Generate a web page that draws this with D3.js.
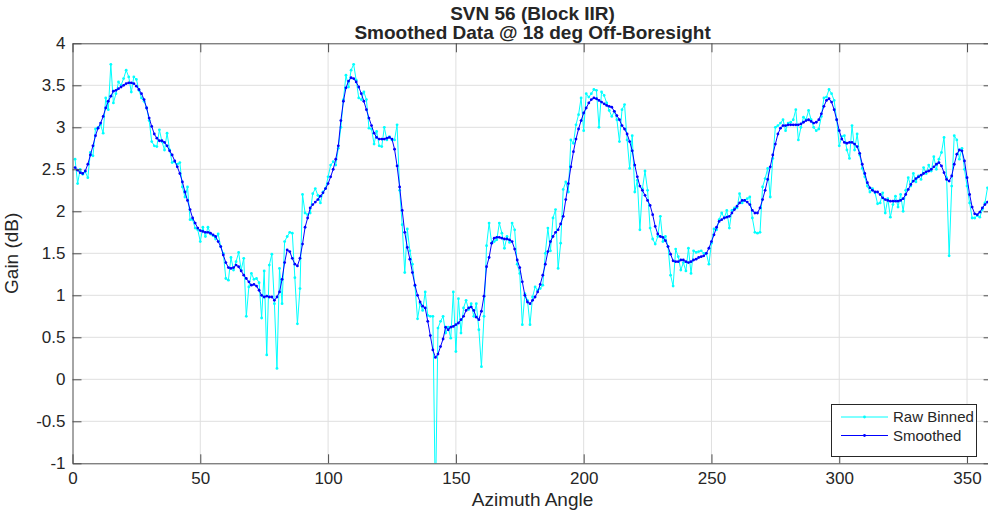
<!DOCTYPE html>
<html><head><meta charset="utf-8">
<script src="https://cdn.jsdelivr.net/npm/d3@7"></script>
<style>body{margin:0;background:#fff}svg{display:block}text{font-family:"Liberation Sans",Arial,sans-serif;fill:#262626}</style>
</head><body>
<svg id="c" width="988" height="512"></svg>
<script>
const titleLines = ["SVN 56 (Block IIR)", "Smoothed Data @ 18 deg Off-Boresight"];
const xLabel = "Azimuth Angle";
const yLabel = "Gain (dB)";
const seriesNames = ["Raw Binned", "Smoothed"];
const xTicks = [0, 50, 100, 150, 200, 250, 300, 350];
const yTicks = [-1, -0.5, 0, 0.5, 1, 1.5, 2, 2.5, 3, 3.5, 4];
const yTickLabels = ["-1", "-0.5", "0", "0.5", "1", "1.5", "2", "2.5", "3", "3.5", "4"];

// azimuth bins 1..360 deg
const azimuth = d3.range(1, 361);

const rawBinned = [
2.62,2.33,2.50,2.44,2.47,2.40,2.70,2.66,2.98,3.00,
3.03,2.93,3.35,3.21,3.75,3.29,3.40,3.54,3.50,3.58,
3.68,3.60,3.42,3.60,3.57,3.44,3.35,3.31,3.23,3.08,
2.83,2.78,2.77,2.97,2.83,2.73,2.93,2.73,2.58,2.59,
2.56,2.58,2.29,2.17,2.29,1.90,1.90,1.80,1.78,1.64,
1.81,1.70,1.81,1.73,1.71,1.67,1.73,1.58,1.50,1.20,
1.18,1.45,1.30,1.40,1.51,1.30,1.44,0.75,1.10,1.26,
1.19,1.20,1.15,0.73,1.29,0.29,1.36,1.49,0.90,0.13,
1.32,0.90,1.64,1.70,1.75,1.74,1.21,0.66,1.08,2.20,
1.98,1.96,1.98,2.21,2.27,2.19,2.10,2.23,2.27,2.41,
2.55,2.59,2.55,2.75,3.00,3.33,3.62,3.48,3.68,3.75,
3.56,3.35,3.33,3.42,3.33,2.99,2.98,2.80,2.95,2.78,
2.77,3.00,2.85,2.89,2.85,2.85,3.03,2.25,1.84,1.27,
1.79,1.53,1.37,1.11,0.72,0.90,0.82,1.04,0.76,0.75,
0.75,-1.5,0.61,0.69,0.75,0.55,0.62,0.49,1.04,0.33,
0.96,0.55,0.85,0.94,0.83,0.90,0.75,0.90,0.59,0.15,
0.75,1.59,1.86,1.62,1.64,1.66,1.86,1.74,1.56,1.70,
1.63,1.86,1.78,1.37,1.26,0.65,1.02,0.94,0.65,0.98,
1.10,1.06,1.08,1.12,1.50,1.80,1.53,1.92,2.02,1.32,
1.62,2.26,2.35,2.23,2.85,2.81,3.03,3.15,3.35,2.96,
3.40,3.36,3.40,3.45,3.44,3.00,3.42,3.38,3.29,3.20,
3.13,3.19,3.09,2.83,3.21,3.27,2.85,2.51,2.90,2.23,
2.37,1.78,2.27,2.48,2.25,1.80,1.67,1.61,1.70,1.94,
1.64,1.70,1.58,1.24,1.11,1.55,1.46,1.30,1.39,1.29,
1.56,1.26,1.53,1.51,1.52,1.53,1.50,1.50,1.37,1.62,
1.79,1.78,1.90,1.98,1.92,2.01,1.80,2.01,2.04,2.04,
2.21,2.10,2.13,2.15,2.17,1.92,1.75,1.74,1.75,2.29,
2.39,2.51,2.17,2.63,3.00,3.02,3.05,3.09,2.96,3.05,
3.06,3.09,3.21,2.85,3.00,3.12,3.09,3.20,3.09,3.00,
2.96,2.98,3.13,3.35,3.36,3.45,3.40,3.32,3.09,2.78,
2.89,2.90,2.73,2.63,3.02,2.73,2.92,2.67,2.51,2.41,
2.30,2.23,2.27,2.22,2.09,2.10,2.22,1.98,2.15,1.93,
2.08,2.18,2.05,2.20,2.00,2.25,2.40,2.30,2.45,2.35,
2.42,2.38,2.52,2.45,2.55,2.48,2.65,2.50,2.62,2.70,
2.88,2.40,1.47,2.30,2.90,2.85,2.62,2.75,2.50,2.30,
2.10,1.92,1.92,1.95,1.93,2.02,2.10,2.28,2.20,2.15
];

const smoothed = [
2.52,2.49,2.46,2.45,2.48,2.56,2.67,2.78,2.90,2.99,
3.05,3.13,3.23,3.31,3.37,3.43,3.44,3.46,3.48,3.50,
3.52,3.53,3.53,3.52,3.49,3.45,3.40,3.33,3.23,3.11,
3.01,2.92,2.87,2.84,2.84,2.82,2.78,2.72,2.67,2.60,
2.53,2.45,2.35,2.23,2.13,2.02,1.92,1.86,1.80,1.77,
1.76,1.75,1.75,1.74,1.72,1.70,1.64,1.58,1.48,1.39,
1.33,1.32,1.33,1.36,1.34,1.29,1.24,1.20,1.16,1.12,
1.13,1.11,1.06,1.00,0.98,0.99,0.98,0.98,0.94,0.98,
1.04,1.19,1.39,1.54,1.52,1.44,1.37,1.35,1.44,1.61,
1.81,1.92,2.04,2.08,2.11,2.14,2.18,2.22,2.27,2.33,
2.41,2.50,2.62,2.78,3.08,3.31,3.47,3.55,3.59,3.58,
3.54,3.48,3.40,3.31,3.21,3.11,3.02,2.93,2.88,2.86,
2.86,2.86,2.87,2.88,2.86,2.74,2.54,2.29,2.01,1.75,
1.57,1.43,1.27,1.12,1.00,0.92,0.87,0.85,0.69,0.52,
0.35,0.26,0.30,0.39,0.48,0.62,0.59,0.62,0.63,0.65,
0.67,0.71,0.75,0.82,0.85,0.86,0.82,0.74,0.71,0.81,
0.99,1.34,1.45,1.62,1.68,1.69,1.69,1.68,1.67,1.67,
1.66,1.64,1.55,1.42,1.33,1.16,1.00,0.92,0.90,0.94,
0.98,1.04,1.13,1.24,1.37,1.52,1.64,1.70,1.75,1.78,
1.85,1.94,2.14,2.33,2.53,2.71,2.86,2.98,3.08,3.17,
3.23,3.29,3.33,3.35,3.34,3.32,3.30,3.28,3.26,3.25,
3.24,3.19,3.14,3.09,3.02,2.98,2.92,2.83,2.72,2.55,
2.41,2.30,2.25,2.19,2.13,2.07,1.96,1.82,1.73,1.70,
1.69,1.65,1.58,1.49,1.41,1.40,1.40,1.42,1.42,1.40,
1.39,1.40,1.42,1.43,1.45,1.46,1.47,1.50,1.56,1.64,
1.72,1.81,1.88,1.90,1.92,1.93,1.94,1.98,2.02,2.06,
2.10,2.13,2.13,2.11,2.08,2.01,1.98,1.98,2.04,2.14,
2.25,2.38,2.53,2.67,2.80,2.92,2.99,3.02,3.02,3.03,
3.03,3.03,3.03,3.03,3.04,3.06,3.08,3.09,3.07,3.05,
3.06,3.09,3.16,3.25,3.32,3.34,3.30,3.21,3.09,2.96,
2.86,2.82,2.81,2.82,2.82,2.80,2.77,2.69,2.56,2.45,
2.34,2.28,2.25,2.23,2.23,2.20,2.16,2.14,2.13,2.12,
2.12,2.12,2.12,2.13,2.15,2.20,2.26,2.32,2.36,2.39,
2.41,2.43,2.45,2.47,2.48,2.50,2.53,2.56,2.58,2.54,
2.46,2.38,2.36,2.42,2.56,2.68,2.73,2.72,2.60,2.40,
2.20,2.05,1.97,1.96,1.99,2.04,2.08,2.11,2.13,2.14
];

const svg = d3.select("#c");
const W = 988, H = 512;
const x = d3.scaleLinear().domain([0, 360]).range([72.5, 992.6]);
const y = d3.scaleLinear().domain([-1, 4]).range([463.3, 43.3]);
const [x0, x1] = x.range();
const [yb, yt] = y.range();

svg.append("rect").attr("width", W).attr("height", H).attr("fill", "#fff");

// grid
const grid = svg.append("g");
grid.selectAll(".gx").data(xTicks.filter(d => d > 0)).join("line")
  .attr("x1", d => x(d)).attr("x2", d => x(d)).attr("y1", yt).attr("y2", yb)
  .attr("stroke", "#dfdfdf").attr("stroke-width", 1);
grid.selectAll(".gy").data(yTicks.filter(d => d > -1 && d < 4)).join("line")
  .attr("x1", x0).attr("x2", x1).attr("y1", d => y(d)).attr("y2", d => y(d))
  .attr("stroke", "#dfdfdf").attr("stroke-width", 1);

// clip
svg.append("clipPath").attr("id", "clip").append("rect")
  .attr("x", x0).attr("y", yt).attr("width", x1 - x0).attr("height", yb - yt);

const line = d3.line().x((d, i) => x(azimuth[i])).y(d => y(d));
const plot = svg.append("g").attr("clip-path", "url(#clip)");

function drawSeries(vals, color) {
  plot.append("path").datum(vals).attr("d", line)
    .attr("fill", "none").attr("stroke", color).attr("stroke-width", 1);
  plot.append("g").selectAll("circle").data(vals).join("circle")
    .attr("cx", (d, i) => x(azimuth[i])).attr("cy", d => y(d)).attr("r", 1.4)
    .attr("fill", color);
}
drawSeries(rawBinned, "#00ffff");
drawSeries(smoothed, "#0000ff");

// axes
const axCol = "#4d4d4d";
const fmtY = d => yTickLabels[yTicks.indexOf(d)];
const gB = svg.append("g").attr("transform", `translate(0,${yb})`)
  .call(d3.axisBottom(x).tickValues(xTicks).tickSizeInner(-9).tickSizeOuter(0).tickPadding(9));
const gT = svg.append("g").attr("transform", `translate(0,${yt})`)
  .call(d3.axisTop(x).tickValues(xTicks).tickSizeInner(-9).tickSizeOuter(0).tickFormat(""));
const gL = svg.append("g").attr("transform", `translate(${x0},0)`)
  .call(d3.axisLeft(y).tickValues(yTicks).tickFormat(fmtY).tickSizeInner(-9).tickSizeOuter(0).tickPadding(7));
const gR = svg.append("g").attr("transform", `translate(${x1},0)`)
  .call(d3.axisRight(y).tickValues(yTicks).tickSizeInner(-9).tickSizeOuter(0).tickFormat(""));
[gB, gT, gL, gR].forEach(g => {
  g.select(".domain").attr("stroke", axCol).attr("stroke-width", 1);
  g.selectAll(".tick line").attr("stroke", axCol);
  g.selectAll("text").attr("font-size", 17).attr("fill", "#262626")
    .style("font-family", "'Liberation Sans', Arial, sans-serif");
});

// labels
svg.append("text").attr("x", (x0 + x1) / 2).attr("y", 506).attr("text-anchor", "middle")
  .attr("font-size", 19).text(xLabel);
svg.append("text").attr("transform", `translate(18,${(yt + yb) / 2}) rotate(-90)`)
  .attr("text-anchor", "middle").attr("font-size", 19).text(yLabel);

// title
titleLines.forEach((t, i) => {
  svg.append("text").attr("x", (x0 + x1) / 2).attr("y", 20 + i * 19)
    .attr("text-anchor", "middle").attr("font-size", 19).attr("font-weight", "bold").text(t);
});

// legend
const lg = svg.append("g");
lg.append("rect").attr("x", 831.5).attr("y", 404.5).attr("width", 145).attr("height", 52)
  .attr("fill", "#fff").attr("stroke", "#262626").attr("stroke-width", 1);
const legendColors = ["#00ffff", "#0000ff"];
seriesNames.forEach((n, i) => {
  const yy = 417 + i * 18.5;
  lg.append("line").attr("x1", 841).attr("x2", 888).attr("y1", yy).attr("y2", yy)
    .attr("stroke", legendColors[i]).attr("stroke-width", 1);
  lg.append("circle").attr("cx", 864.5).attr("cy", yy).attr("r", 1.4).attr("fill", legendColors[i]);
  lg.append("text").attr("x", 893).attr("y", yy).attr("dy", "0.35em").attr("font-size", 15).text(n);
});
</script>
</body></html>
